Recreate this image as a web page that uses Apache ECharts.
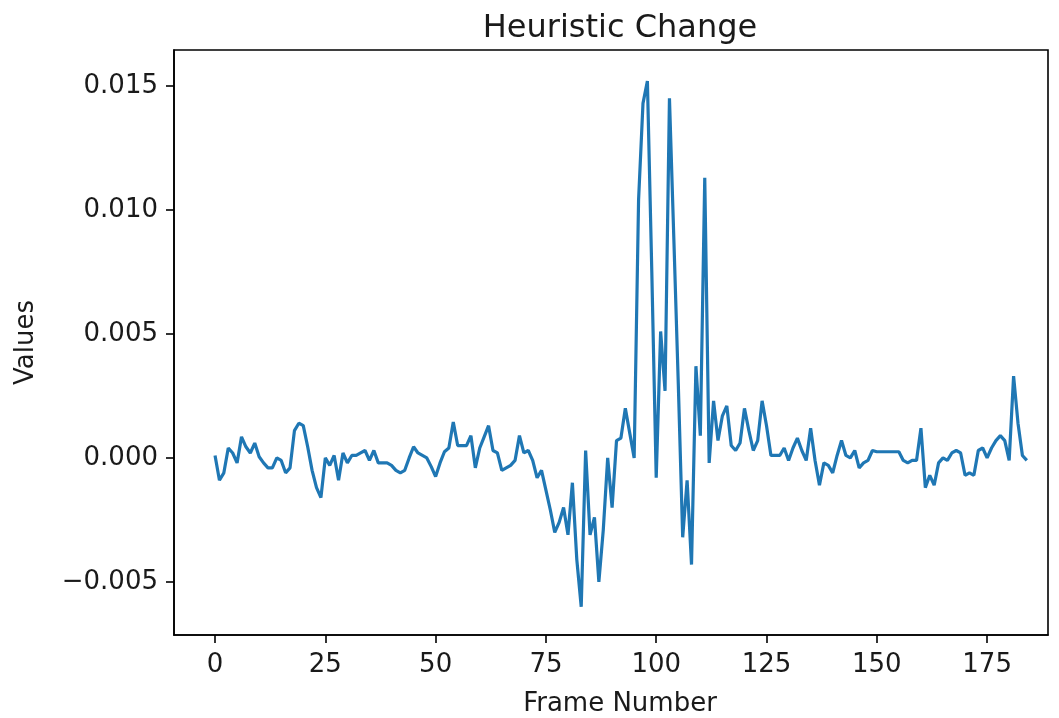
<!DOCTYPE html>
<html><head><meta charset="utf-8">
<script src="https://cdn.jsdelivr.net/npm/echarts@6/dist/echarts.min.js"></script>
<style>html,body{margin:0;padding:0;background:#fff}#c{width:1059px;height:718px}</style>
</head><body><div id="c"></div>
<script>
// Heuristic change value per frame (frame number = index)
const values = [
  0.0001,-0.0009,-0.0006,0.0004,0.0002,-0.0002,0.00085,0.00045,0.0002,0.0006,
  0.00005,-0.0002,-0.0004,-0.0004,0,-0.0001,-0.0006,-0.0004,0.0011,0.0014,
  0.0013,0.00045,-0.0005,-0.0012,-0.0016,0,-0.0003,0.0001,-0.0009,0.0002,
  -0.0002,0.0001,0.0001,0.0002,0.0003,-0.0001,0.0003,-0.0002,-0.0002,-0.0002,
  -0.0003,-0.0005,-0.0006,-0.0005,0,0.00045,0.0002,0.0001,0,-0.00035,
  -0.00075,-0.0002,0.00025,0.0004,0.00145,0.0005,0.0005,0.0005,0.0009,-0.0004,
  0.0004,0.00085,0.0013,0.0003,0.0002,-0.0005,-0.0004,-0.0003,-0.0001,0.0009,
  0.0002,0.0003,-0.0001,-0.0008,-0.0005,-0.0013,-0.0021,-0.003,-0.0026,-0.002,
  -0.0031,-0.001,-0.0041,-0.006,0.0003,-0.0031,-0.0024,-0.005,-0.0029,0,
  -0.002,0.0007,0.0008,0.002,0.001,0,0.0104,0.0143,0.0152,0.0075,
  -0.0008,0.0051,0.0027,0.0145,0.0088,0.003,-0.0032,-0.0009,-0.0043,0.0037,
  0.0009,0.0113,-0.0002,0.0023,0.0007,0.0017,0.0021,0.0005,0.0003,0.0006,
  0.002,0.0011,0.0003,0.0007,0.0023,0.0013,0.0001,0.0001,0.0001,0.0004,
  -0.0001,0.0004,0.0008,0.0003,-0.0001,0.0012,-0.0001,-0.0011,-0.0002,-0.0003,
  -0.0006,0.0001,0.0007,0.0001,0,0.0003,-0.0004,-0.0002,-0.0001,0.0003,
  0.00025,0.00025,0.00025,0.00025,0.00025,0.00025,-0.0001,-0.0002,-0.0001,-0.0001,
  0.0012,-0.0012,-0.0007,-0.0011,-0.0002,0,-0.0001,0.0002,0.0003,0.0002,
  -0.0007,-0.0006,-0.0007,0.0003,0.0004,0,0.0004,0.0007,0.0009,0.0007,
  -0.0001,0.0033,0.0014,0.0001,-0.0001
];
const xTicks = [0, 25, 50, 75, 100, 125, 150, 175];
const yTicks = [-0.005, 0, 0.005, 0.010, 0.015];
const yTickLabels = ['\u22120.005', '0.000', '0.005', '0.010', '0.015'];

const FONT = 'DejaVu Sans';
const chart = echarts.init(document.getElementById('c'), null, {renderer: 'canvas'});
const seriesData = values.map((v, i) => [i, v]);

chart.setOption({
  animation: false,
  backgroundColor: '#fff',
  title: {
    text: 'Heuristic Change',
    left: 620, textAlign: 'center', top: 13, padding: 0,
    textStyle: {fontFamily: FONT, fontSize: 32, fontWeight: 'normal', color: '#1a1a1a'}
  },
  grid: {left: 174, right: 11, top: 50, bottom: 83, show: true, borderColor: '#000', borderWidth: 1.6,
         containLabel: false, outerBoundsMode: 'none'},
  xAxis: {
    type: 'value', min: -9.3, max: 188.8,
    splitLine: {show: false},
    axisLine: {show: true, onZero: false, lineStyle: {color: '#000', width: 1.6}},
    axisTick: {show: true, length: 8, lineStyle: {color: '#000', width: 1.6}, customValues: xTicks},
    axisLabel: {customValues: xTicks, fontFamily: FONT, fontSize: 26, color: '#1a1a1a', margin: 17},
    name: 'Frame Number', nameLocation: 'middle', nameGap: 56,
    nameTextStyle: {fontFamily: FONT, fontSize: 26, color: '#1a1a1a', padding: [0, 0, 0, 18]}
  },
  yAxis: {
    type: 'value', min: -0.00714, max: 0.01645,
    splitLine: {show: false},
    axisLine: {show: true, onZero: false, lineStyle: {color: '#000', width: 1.6}},
    axisTick: {show: true, length: 8, lineStyle: {color: '#000', width: 1.6}, customValues: yTicks},
    axisLabel: {
      customValues: yTicks, fontFamily: FONT, fontSize: 26, color: '#1a1a1a', margin: 16,
      formatter: function (v) {
        let best = 0;
        for (let k = 0; k < yTicks.length; k++) if (Math.abs(yTicks[k] - v) < Math.abs(yTicks[best] - v)) best = k;
        return yTickLabels[best];
      }
    },
    name: 'Values', nameLocation: 'middle', nameGap: 135,
    nameTextStyle: {fontFamily: FONT, fontSize: 26, color: '#1a1a1a'}
  },
  series: [{
    type: 'line', data: seriesData, showSymbol: false, symbol: 'none',
    lineStyle: {color: '#1f77b4', width: 3.2}, itemStyle: {color: '#1f77b4'}
  }]
});
</script></body></html>
